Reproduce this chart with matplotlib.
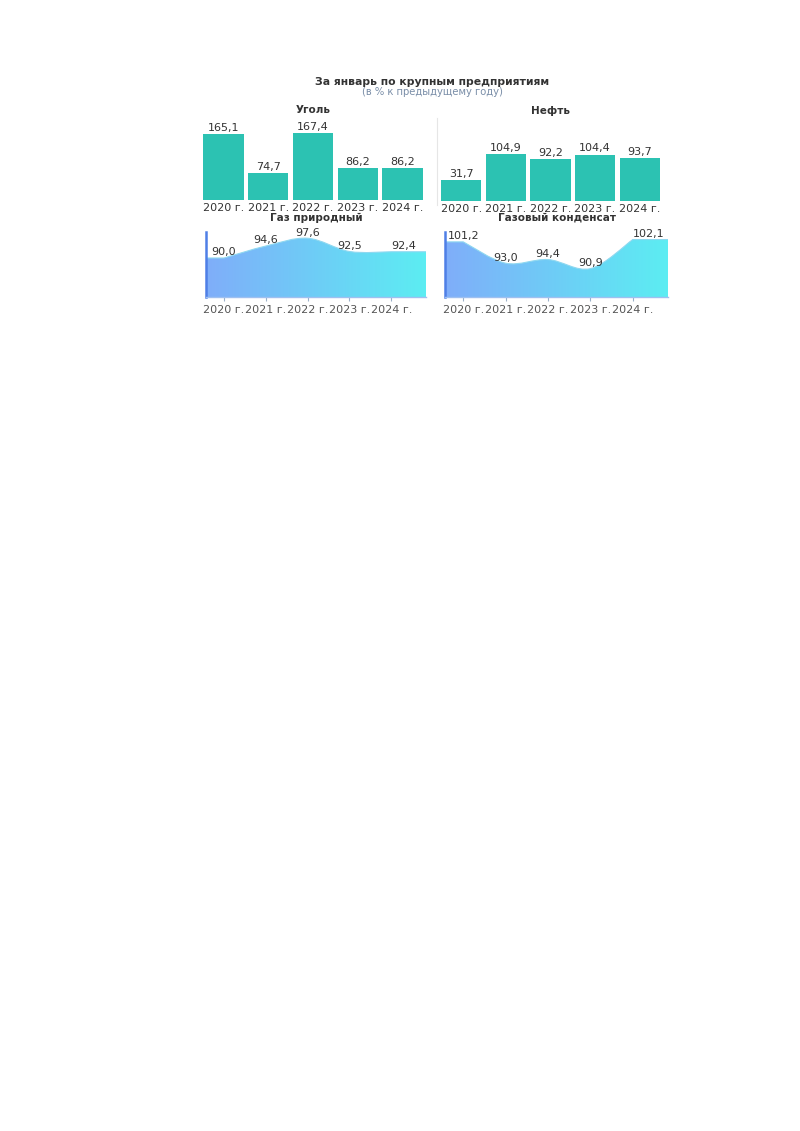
import numpy as np
import matplotlib
matplotlib.use('Agg')
import matplotlib.pyplot as plt
from matplotlib.path import Path
from matplotlib.patches import PathPatch

######## data
years = ['2020 г.', '2021 г.', '2022 г.', '2023 г.', '2024 г.']

coal = [165.1, 74.7, 167.4, 86.2, 86.2]
oil = [31.7, 104.9, 92.2, 104.4, 93.7]
gas = [90.0, 94.6, 97.6, 92.5, 92.4]
condensate = [101.2, 93.0, 94.4, 90.9, 102.1]

title = 'За январь по крупным предприятиям'
subtitle = '(в % к предыдущему году)'
panel_titles = ['Уголь', 'Нефть', 'Газ природный', 'Газовый конденсат']

plt.rcParams['font.family'] = ['DejaVu Sans']

W, H = 800, 1131
fig = plt.figure(figsize=(W / 100, H / 100), dpi=100)


def box(x0, y0, x1, y1):
    # pixel box (from top-left) -> figure fraction rect
    return [x0 / W, 1 - y1 / H, (x1 - x0) / W, (y1 - y0) / H]


def fmt(v):
    return ('%.1f' % v).replace('.', ',')


bar_col = '#2cc2b2'
txt_col = '#333333'


def bar_panel(rect, vals, ylo, yhi, name, title_y):
    ax = fig.add_axes(rect)
    x = np.arange(len(vals))
    vals = np.array(vals)
    # bars start at the bottom of the value axis
    ax.bar(x, vals - ylo, width=0.9, color=bar_col, bottom=ylo)
    for xi, v in zip(x, vals):
        ax.text(xi, v + (yhi - ylo) * 0.015, fmt(v), ha='center', va='bottom',
                fontsize=8, color=txt_col)
    ax.set_xlim(-0.5, len(vals) - 0.5)
    ax.set_ylim(ylo, yhi)
    ax.set_xticks(x)
    ax.set_xticklabels(years, fontsize=8, color=txt_col)
    ax.tick_params(axis='x', length=0, pad=2)
    ax.set_yticks([])
    for s in ax.spines.values():
        s.set_visible(False)
    ax.patch.set_alpha(0)
    fig.text(rect[0] + rect[2] / 2, 1 - title_y / H, name, ha='center',
             va='center', fontsize=7.5, fontweight='bold', color=txt_col)
    return ax


def curve(xs, ys):
    # smooth path through the points (catmull-rom -> bezier), flat at ends
    n = len(xs)
    verts = [(0, ys[0]), (xs[0], ys[0])]
    codes = [Path.MOVETO, Path.LINETO]
    px = np.concatenate([[xs[0]], xs, [xs[-1]]])
    py = np.concatenate([[ys[0]], ys, [ys[-1]]])
    for i in range(1, n):
        p0 = np.array([px[i - 1], py[i - 1]])
        p1 = np.array([px[i], py[i]])
        p2 = np.array([px[i + 1], py[i + 1]])
        p3 = np.array([px[i + 2], py[i + 2]])
        c1 = p1 + (p2 - p0) / 6
        c2 = p2 - (p3 - p1) / 6
        verts += [tuple(c1), tuple(c2), tuple(p2)]
        codes += [Path.CURVE4] * 3
    verts += [(1, ys[-1])]
    codes += [Path.LINETO]
    return verts, codes


def area_panel(rect, vals, ylo, yhi, name, title_y):
    ax = fig.add_axes(rect)
    n = len(vals)
    xs = 0.082 + 0.19 * np.arange(n)
    ys = np.array(vals)

    lv, lc = curve(xs, ys)
    verts = [(0, ylo)] + lv + [(1, ylo), (0, ylo)]
    codes = [Path.MOVETO] + [Path.LINETO] + lc[1:] + [Path.LINETO, Path.CLOSEPOLY]
    patch = PathPatch(Path(verts, codes), facecolor='none', edgecolor='none')
    ax.add_patch(patch)

    # horizontal gradient fill
    c_left = np.array([0.50, 0.68, 0.98])
    c_right = np.array([0.36, 0.93, 0.95])
    t = np.linspace(0, 1, 256)[None, :, None]
    grad = c_left + (c_right - c_left) * t
    im = ax.imshow(grad, extent=[0, 1, ylo, yhi], aspect='auto',
                   origin='lower', zorder=1)
    im.set_clip_path(patch)

    # outline of the curve
    ax.add_patch(PathPatch(Path(lv, lc), facecolor='none',
                           edgecolor='#8fd8f0', lw=0.8, zorder=2))

    for i, (xi, v) in enumerate(zip(xs, ys)):
        ha = 'center'
        if i == n - 1:
            ha = 'left'
        ax.text(xi, v + (yhi - ylo) * 0.01, fmt(v), ha=ha, va='bottom',
                fontsize=8, color=txt_col, zorder=3)

    ax.set_xlim(0, 1)
    ax.set_ylim(ylo, yhi)
    ax.set_xticks(xs)
    ax.set_xticklabels(years, fontsize=8, color='#555555')
    ax.tick_params(axis='x', length=3, color='#9ab0c8', pad=3)
    ax.set_yticks([])
    for s in ['top', 'right']:
        ax.spines[s].set_visible(False)
    ax.spines['left'].set_color('#4f7fe6')
    ax.spines['left'].set_linewidth(1.8)
    ax.spines['bottom'].set_color('#9fc0f0')
    ax.spines['bottom'].set_linewidth(1.0)
    ax.patch.set_alpha(0)
    fig.text(rect[0] + rect[2] / 2, 1 - title_y / H, name, ha='center',
             va='center', fontsize=7.5, fontweight='bold', color=txt_col)
    return ax


bar_panel(box(201, 122, 425, 200), coal, 12, 193, panel_titles[0], 110)
bar_panel(box(439, 122, 662, 201), oil, -28, 197, panel_titles[1], 111)
area_panel(box(206, 232, 426, 297), gas, 75, 100, panel_titles[2], 218)
area_panel(box(445, 232, 668, 297), condensate, 80, 105, panel_titles[3], 218)

# thin separator between the top panels
fig.add_artist(plt.Line2D([437 / W, 437 / W], [1 - 205 / H, 1 - 118 / H],
                          color='#e6e6e6', lw=0.8))

fig.text(432 / W, 1 - 82 / H, title, ha='center', va='center', fontsize=7.8,
         fontweight='bold', color=txt_col)
fig.text(432 / W, 1 - 92 / H, subtitle, ha='center', va='center', fontsize=7.2,
         color='#7a8ea8')

fig.savefig('out.png', dpi=100, facecolor='white')
